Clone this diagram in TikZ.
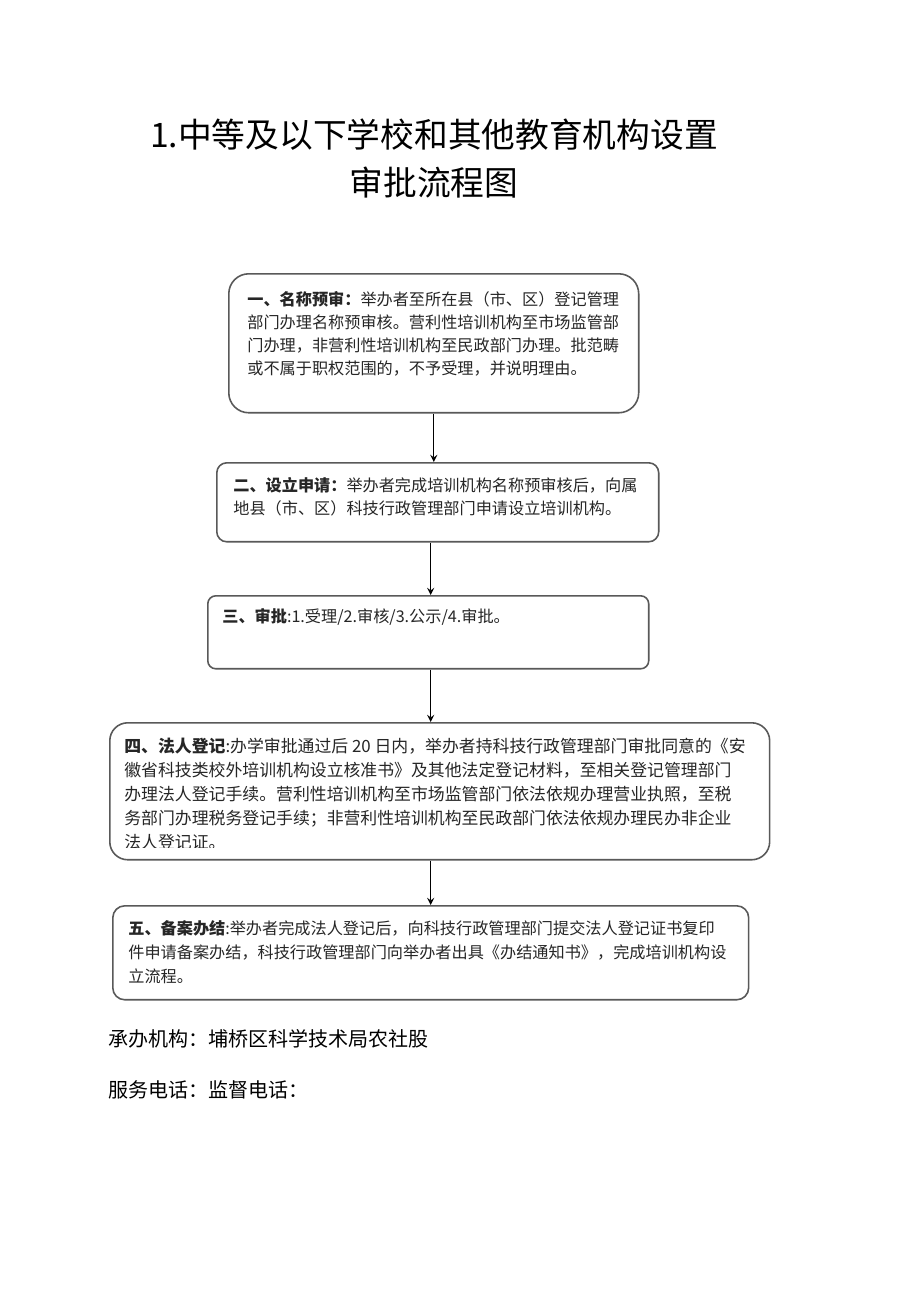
\documentclass[tikz,border=0pt]{standalone}
\usepackage{fontspec}
\newfontfamily\cjk{Noto Sans CJK SC}
\usetikzlibrary{calc}
\tikzset{>=stealth}
\tikzset{
  stepbox/.style={draw=black!65,line width=0.9pt,anchor=north west,inner sep=0pt},
  boxtext/.style={anchor=north west,inner sep=0pt,align=left,text=black!85,
    font=\cjk\fontsize{9.2}{13.2}\selectfont},
  flow/.style={->,line width=0.8pt}
}

\begin{document}
\begin{tikzpicture}[x=0.02cm,y=-0.02cm]
\useasboundingbox[fill=white] (0,0) rectangle (920,1301);
% title
\node[font=\cjk\fontsize{19.2}{24}\selectfont] (title1) at (434,135) {1.中等及以下学校和其他教育机构设置};
\node[font=\cjk\fontsize{19.2}{24}\selectfont] (title2) at (434,183) {审批流程图};
% boxes
\node[stepbox,rounded corners=0.4cm,minimum width=8.2cm,minimum height=2.78cm] (s1) at (228,273) {};
\node[boxtext] (t1) at (247,291) {\textbf{一、名称预审：}举办者至所在县（市、区）登记管理\\部门办理名称预审核。营利性培训机构至市场监管部\\门办理，非营利性培训机构至民政部门办理。批范畴\\或不属于职权范围的，不予受理，并说明理由。};
\node[stepbox,rounded corners=0.2cm,minimum width=8.84cm,minimum height=1.58cm] (s2) at (216,462) {};
\node[boxtext] (t2) at (233,477) {\textbf{二、设立申请：}举办者完成培训机构名称预审核后，向属\\地县（市、区）科技行政管理部门申请设立培训机构。};
\node[stepbox,rounded corners=0.16cm,minimum width=8.82cm,minimum height=1.46cm] (s3) at (207,595) {};
\node[boxtext] (t3) at (222,608) {\textbf{三、审批}:1.受理/2.审核/3.公示/4.审批。};
\node[stepbox,rounded corners=0.36cm,minimum width=13.2cm,minimum height=2.74cm] (s4) at (109,722) {};
\begin{scope}
\clip (109,722) rectangle (769,847);
\node[boxtext,font=\cjk\fontsize{9.6}{13.6}\selectfont] (t4) at (124,738) {\textbf{四、法人登记}:办学审批通过后 20 日内，举办者持科技行政管理部门审批同意的《安\\徽省科技类校外培训机构设立核准书》及其他法定登记材料，至相关登记管理部门\\办理法人登记手续。营利性培训机构至市场监管部门依法依规办理营业执照，至税\\务部门办理税务登记手续；非营利性培训机构至民政部门依法依规办理民办非企业\\法人登记证。};
\end{scope}
\node[stepbox,rounded corners=0.24cm,minimum width=12.72cm,minimum height=1.88cm] (s5) at (112,905) {};
\node[boxtext,font=\cjk\fontsize{9.2}{13.6}\selectfont] (t5) at (128,920) {\textbf{五、备案办结}:举办者完成法人登记后，向科技行政管理部门提交法人登记证书复印\\件申请备案办结，科技行政管理部门向举办者出具《办结通知书》，完成培训机构设\\立流程。};
% arrows
\draw[flow] (s1.south) -- (s1.south |- s2.north);
\draw[flow] (s2.south -| s5.north) -- (s3.north -| s5.north);
\draw[flow] (s3.south -| s5.north) -- (s4.north -| s5.north);
\draw[flow] (s4.south -| s5.north) -- (s5.north);
% footer
\node[anchor=west,inner sep=0pt,font=\cjk\fontsize{11.4}{14}\selectfont] (org) at (108,1039) {承办机构：埔桥区科学技术局农社股};
\node[anchor=west,inner sep=0pt,font=\cjk\fontsize{11.4}{14}\selectfont] (tel) at (108,1090) {服务电话：监督电话：};
\end{tikzpicture}
\end{document}
